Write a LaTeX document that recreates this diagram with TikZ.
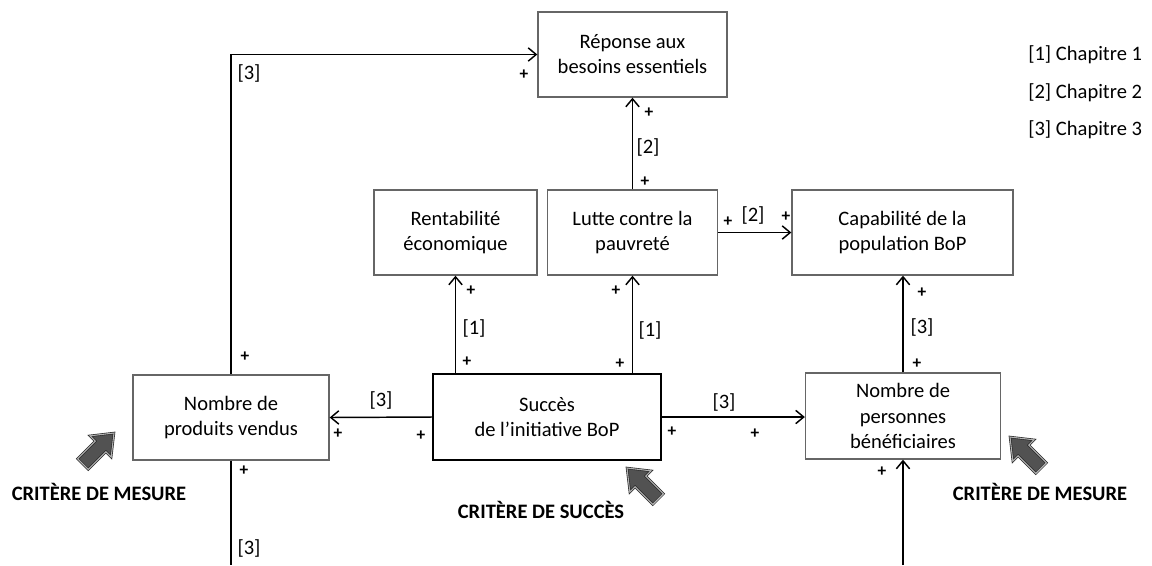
\documentclass[tikz,border=0pt]{standalone}
\usepackage{fontspec}
\setmainfont{Carlito}
\usetikzlibrary{arrows.meta}
\begin{document}
\begin{tikzpicture}[x=0.75pt,y=-0.75pt,
  font=\fontsize{15.4}{18.8}\selectfont,
  box/.style={draw=black!60, line width=1pt, fill=white, align=center, inner sep=0pt, minimum height=63.75pt},
  mainbox/.style={box, draw=black, line width=1.5pt},
  conn/.style={draw=black, line width=1.1pt, -{Straight Barb[length=6pt,width=10pt,line width=1.1pt]}},
  plain/.style={draw=black, line width=1.1pt},
  lbl/.style={inner sep=0pt},
  pl/.style={inner sep=0pt, font=\fontsize{13}{15}\selectfont\bfseries},
  crit/.style={inner sep=0pt, font=\fontsize{15.4}{18.8}\selectfont\bfseries},
  blockarrow/.style={fill=black!68, draw=black!85, double=black!30, double distance=0.8pt, line width=0.5pt, line join=miter}
]
\useasboundingbox (0,0) rectangle (1152,565);

% boxes
\node[box, minimum width=141.75pt] (rep) at (632.5,54.5) {Réponse aux\\besoins essentiels};
\node[box, minimum width=122.25pt] (rent) at (455.5,232.5) {Rentabilité\\économique};
\node[box, minimum width=127.5pt] (lutte) at (632.5,232.5) {Lutte contre la\\pauvreté};
\node[box, minimum width=165.75pt] (cap) at (902.5,232.5) {Capabilité de la\\population BoP};
\node[box, minimum width=147pt] (prod) at (231,417.5) {Nombre de\\produits vendus};
\node[mainbox, minimum width=171pt, minimum height=64.5pt] (succ) at (547,417) {Succès\\de l’initiative BoP};
\node[box, minimum width=146.25pt, minimum height=64.5pt] (pers) at (903,416) {Nombre de\\personnes\\bénéficiaires};

\coordinate (botL) at (231,565);
\coordinate (botR) at (903,565);

% connectors
\draw[conn] (prod.north) |- (rep.west);
\draw[plain] (prod.south) -- (botL);
\draw[conn] (lutte.north) -- (rep.south);
\draw[conn] (lutte.east) -- (cap.west);
\draw[conn] (succ.north -| rent.south) -- (rent.south);
\draw[conn] (succ.north -| lutte.south) -- (lutte.south);
\draw[conn] (succ.west) -- (prod.east);
\draw[conn] (succ.east) -- (succ.east -| pers.west);
\draw[conn] (pers.north) -- (pers.north |- cap.south);
\draw[conn] (botR) -- (pers.south);

% connector labels
\node[lbl] (t3a) at (249,73) {[3]};
\node[pl] (p1) at (524,75) {+};
\node[pl] (p2) at (245,357) {+};
\node[pl] (p3) at (244,471) {+};
\node[lbl] (t3b) at (249,548) {[3]};
\node[pl] (p4) at (649,113) {+};
\node[lbl] (t2a) at (648,147) {[2]};
\node[pl] (p5) at (645,182) {+};
\node[pl] (p6) at (728,222) {+};
\node[lbl] (t2b) at (753,215) {[2]};
\node[pl] (p7) at (786,217) {+};
\node[pl] (p8) at (471,291) {+};
\node[lbl] (t1a) at (474,328) {[1]};
\node[pl] (p9) at (467,362) {+};
\node[pl] (p10) at (616,291) {+};
\node[lbl] (t1b) at (650,330) {[1]};
\node[pl] (p11) at (620,364) {+};
\node[lbl] (t3c) at (381,400) {[3]};
\node[pl] (p12) at (338,434) {+};
\node[pl] (p13) at (421,436) {+};
\node[pl] (p14) at (672,432) {+};
\node[lbl] (t3d) at (724,402) {[3]};
\node[pl] (p15) at (755,434) {+};
\node[pl] (p17) at (922,293) {+};
\node[lbl] (t3e) at (922,327) {[3]};
\node[pl] (p18) at (917,364) {+};
\node[pl] (p19) at (882,472) {+};

% legend
\node[lbl, anchor=west] (l1) at (1028,55) {[1] Chapitre 1};
\node[lbl, anchor=west] (l2) at (1028,93) {[2] Chapitre 2};
\node[lbl, anchor=west] (l3) at (1028,130) {[3] Chapitre 3};

% criteria
\node[crit] (c1) at (99,492) {CRITÈRE DE MESURE};
\node[crit] (c2) at (541,510) {CRITÈRE DE SUCCÈS};
\node[crit] (c3) at (1040,492) {CRITÈRE DE MESURE};

% block arrows
\draw[blockarrow, shift={(114,433)}, rotate=45] (0,0) -- (-19,15) -- (-19,7.5) -- (-44,7.5) -- (-44,-7.5) -- (-19,-7.5) -- (-19,-15) -- cycle;
\draw[blockarrow, shift={(627,468)}, rotate=135] (0,0) -- (-19,15) -- (-19,7.5) -- (-44,7.5) -- (-44,-7.5) -- (-19,-7.5) -- (-19,-15) -- cycle;
\draw[blockarrow, shift={(1010,437)}, rotate=135] (0,0) -- (-19,15) -- (-19,7.5) -- (-44,7.5) -- (-44,-7.5) -- (-19,-7.5) -- (-19,-15) -- cycle;
\end{tikzpicture}
\end{document}
